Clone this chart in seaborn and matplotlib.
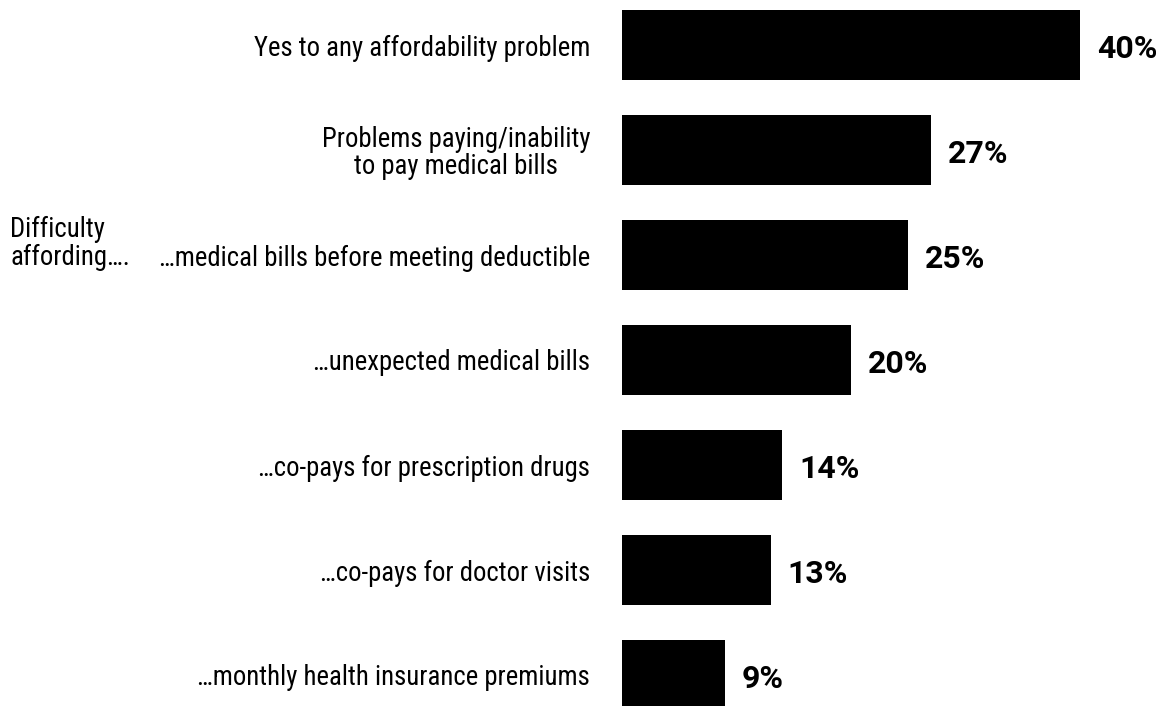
import matplotlib
matplotlib.use("Agg")
import matplotlib.pyplot as plt
import matplotlib.transforms as mtransforms
from matplotlib import font_manager
import seaborn as sns
import pandas as pd

categories = [
    "Yes to any affordability problem",
    "Problems paying/inability\nto pay medical bills",
    "…medical bills before meeting deductible",
    "…unexpected medical bills",
    "…co-pays for prescription drugs",
    "…co-pays for doctor visits",
    "…monthly health insurance premiums",
]
values = [40, 27, 25, 20, 14, 13, 9]
group_label = "Difficulty\naffording…."

sns.set_theme(style="white")
installed = {f.name for f in font_manager.fontManager.ttflist}
label_family = "Roboto Condensed" if "Roboto Condensed" in installed else "Roboto"
plt.rcParams["font.family"] = [label_family, "DejaVu Sans"]

df = pd.DataFrame({"category": categories, "value": values})

fig = plt.figure(figsize=(11.64, 7.06), dpi=100)
ax = fig.add_axes([622 / 1164, 0, 542 / 1164, 1])

sns.barplot(data=df, x="value", y="category", orient="h", color="black",
            width=0.667, edgecolor="none", saturation=1, ax=ax)

ax.set_xlim(0, 40 * 542 / 458)
ax.set_ylim(6 + 31 / 105, -45 / 105)
ax.set_xlabel("")
ax.set_ylabel("")
ax.set_xticks([])
for s in ax.spines.values():
    s.set_visible(False)

ax.tick_params(axis="y", length=0, pad=23, labelsize=19.3, labelcolor="black")
for lbl in ax.get_yticklabels():
    lbl.set_multialignment("center")
    lbl.set_linespacing(1.0)

for cont in ax.containers:
    anns = ax.bar_label(cont, labels=[f"{v}%" for v in values], padding=12,
                        fontsize=23, fontweight="bold", color="black",
                        family=["Roboto", "DejaVu Sans"])
    for ann in anns:
        ann.xyann = (12, -3)

trans = mtransforms.blended_transform_factory(fig.transFigure, ax.transData)
ax.text(10 / 1164, 2 - 0.11, group_label, transform=trans, ha="left",
        va="center", fontsize=19.3, color="black", linespacing=1.0)

fig.savefig("out.png", dpi=100)
